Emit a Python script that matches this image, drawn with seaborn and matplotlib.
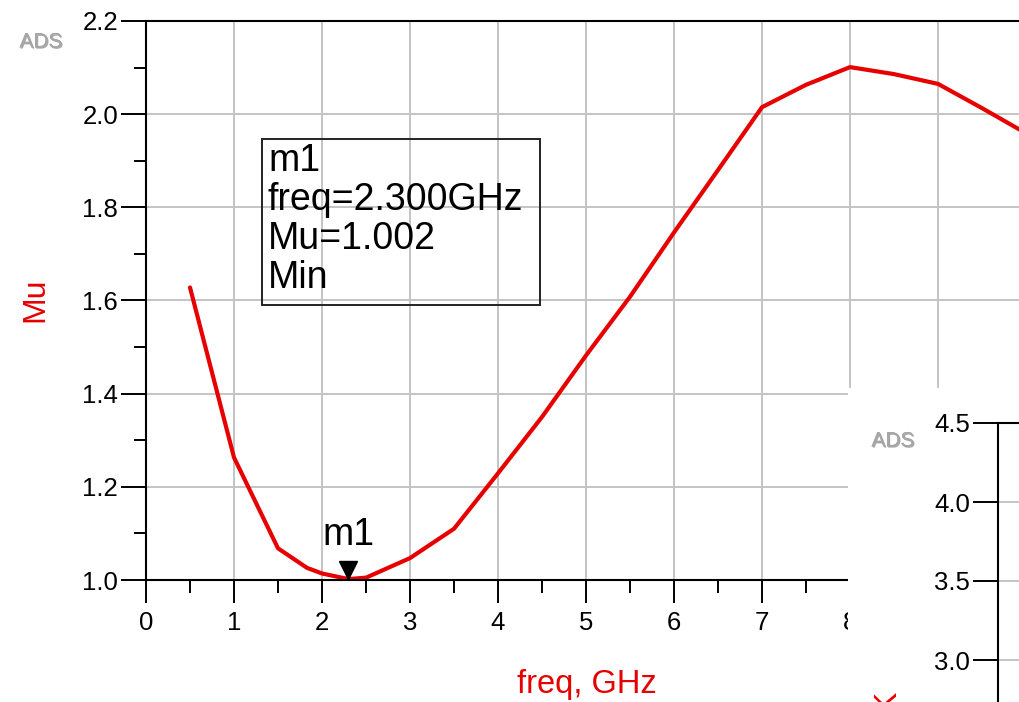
import numpy as np
import pandas as pd
import matplotlib
matplotlib.use("Agg")
import matplotlib.pyplot as plt
import matplotlib.transforms as mtransforms
import matplotlib.patheffects as pe
from matplotlib.patches import Rectangle
from matplotlib.ticker import MultipleLocator
import seaborn as sns

# ---- data ----
freq_ghz = [0.5, 1.0, 1.5, 1.83, 2.0, 2.3, 2.5, 3.0, 3.5, 4.0, 4.5, 5.0, 5.5, 6.0, 6.5, 7.0, 7.5, 8.0, 8.5, 9.0, 9.5, 10.0]
mu_vals = [1.628, 1.263, 1.068, 1.026, 1.014, 1.002, 1.005, 1.047, 1.110, 1.229, 1.350, 1.482, 1.608, 1.746, 1.880, 2.015, 2.063, 2.101, 2.086, 2.065, 2.013, 1.959]
x_ticks = [0, 1, 2, 3, 4, 5, 6, 7, 8, 9]
y_ticks = [1.0, 1.2, 1.4, 1.6, 1.8, 2.0, 2.2]
inset_y_ticks = [3.0, 3.5, 4.0, 4.5]
marker_name = "m1"
marker_freq = 2.3
marker_mu = 1.002
marker_lines = ["m1", "freq=2.300GHz", "Mu=1.002", "Min"]

df = pd.DataFrame({"freq": freq_ghz, "Mu": mu_vals})

sns.set_style("white")
plt.rcParams["font.family"] = ["Liberation Sans", "DejaVu Sans"]
plt.rcParams["text.color"] = "black"
plt.rcParams["xtick.color"] = "black"
plt.rcParams["ytick.color"] = "black"

W, H = 1019, 702
fig = plt.figure(figsize=(W / 100, H / 100), dpi=100)

RED = "#e60000"
GRID = "#c4c4c4"
ADS_FX = [pe.withSimplePatchShadow(offset=(0.8, -0.8), shadow_rgbFace="#6f6f6f", alpha=0.6), pe.Normal()]

def fx(px):
    return px / W

def fy(py):
    return 1 - py / H

# main axes
left, right, top, bottom = 146, 1019, 21, 580
ax = fig.add_axes([fx(left), fy(bottom), fx(right) - fx(left), fy(top) - fy(bottom)])
sns.lineplot(data=df, x="freq", y="Mu", ax=ax, color=RED, lw=3.0, sort=False)
ax.set_xlim(0, (right - left) / 88.0)
ax.set_ylim(1.0, 2.2)
ax.set_xticks(x_ticks)
ax.set_yticks(y_ticks)
ax.set_yticklabels([f"{v:.1f}" for v in y_ticks])
ax.xaxis.set_minor_locator(MultipleLocator(0.5))
ax.yaxis.set_minor_locator(MultipleLocator(0.1))
ax.grid(True, which="major", color=GRID, lw=1.4)
ax.set_axisbelow(True)
ax.spines["right"].set_visible(False)
for s in ["left", "top", "bottom"]:
    ax.spines[s].set_color("black")
    ax.spines[s].set_linewidth(1.5)
ax.tick_params(axis="y", which="major", direction="out", length=18, width=1.4, pad=2, labelsize=18.5, left=True)
ax.tick_params(axis="y", which="minor", direction="out", length=9, width=1.4, left=True)
ax.tick_params(axis="x", which="major", direction="out", length=16.5, width=1.4, pad=6, labelsize=18.5, bottom=True)
ax.tick_params(axis="x", which="minor", direction="out", length=9, width=1.4, bottom=True)
ax.set_xlabel("")
ax.set_ylabel("")
fig.text(fx(587), fy(684), "freq, GHz", color=RED, fontsize=23.5, ha="center", va="center")
fig.text(fx(35), fy(300), "Mu", color=RED, fontsize=23, ha="center", va="center", rotation=90)
fig.text(fx(41), fy(42), "ADS", color="#a6a6a6", fontsize=15, ha="center", va="center", path_effects=ADS_FX)

# marker
off = mtransforms.offset_copy(ax.transData, fig=fig, x=0, y=6.5, units="points")
ax.plot([marker_freq], [marker_mu], marker="v", color="black", markersize=12.5, transform=off, clip_on=False, ls="none")
ax.annotate(marker_name, xy=(marker_freq, marker_mu), xytext=(0, 32), textcoords="offset points",
            ha="center", va="center", fontsize=27)

# marker readout box
fig.patches.append(Rectangle((fx(262), fy(305)), fx(540) - fx(262), fy(139) - fy(305),
                             transform=fig.transFigure, fill=False, ec="#222222", lw=1.4, zorder=5))
fig.text(fx(268), fy(143), "\n".join(marker_lines), fontsize=27, ha="left", va="top", linespacing=1.11, zorder=6)

# overlapping second plot window (lower right)
fig.patches.append(Rectangle((fx(848), 0), 1 - fx(848), fy(388), transform=fig.transFigure,
                             fc="white", ec="none", zorder=10))
ax2 = fig.add_axes([fx(998), 0, 1 - fx(998), fy(423)], zorder=11)
ax2.set_facecolor("white")
ax2.set_ylim(4.5 - (H - 423) / 158.0, 4.5)
ax2.set_xlim(0, 1)
ax2.set_yticks(inset_y_ticks)
ax2.set_yticklabels([f"{v:.1f}" for v in inset_y_ticks])
ax2.set_xticks([])
ax2.grid(True, axis="y", color=GRID, lw=1.4)
for s in ["right", "bottom"]:
    ax2.spines[s].set_visible(False)
for s in ["left", "top"]:
    ax2.spines[s].set_color("black")
    ax2.spines[s].set_linewidth(1.5)
ax2.tick_params(axis="y", which="major", direction="out", length=18, width=1.4, pad=2, labelsize=18.5, left=True)
t = fig.text(fx(893), fy(441), "ADS", color="#a6a6a6", fontsize=15, ha="center", va="center", path_effects=ADS_FX)
t.set_zorder(12)
t2 = fig.text(fx(886), fy(690), "K", color=RED, fontsize=23, ha="center", va="top", rotation=90)
t2.set_zorder(12)

fig.savefig("out.png", dpi=100)
